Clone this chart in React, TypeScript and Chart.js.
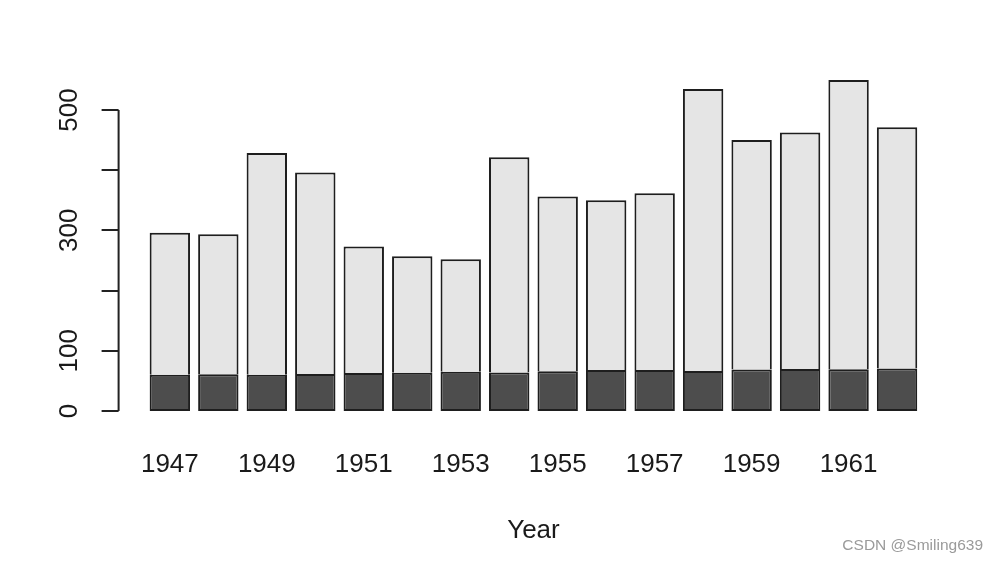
import React, { useEffect, useRef } from "react";
import { Chart, registerables } from "chart.js";

Chart.register(...registerables);

const years = ["1947","1948","1949","1950","1951","1952","1953","1954","1955","1956","1957","1958","1959","1960","1961","1962"];
const employed = [60.323, 61.122, 60.171, 61.187, 63.221, 63.639, 64.989, 63.761, 66.019, 67.857, 68.169, 66.513, 68.655, 69.564, 69.331, 70.551];
const unemployed = [235.6, 232.5, 368.2, 335.1, 209.9, 193.2, 187.0, 357.8, 290.4, 282.2, 293.6, 468.1, 381.3, 393.1, 480.6, 400.7];
const yTicks = [0, 100, 200, 300, 400, 500];
const yTickLabels = ["0", "100", "", "300", "", "500"];
const xAxisTitle = "Year";
const watermark = "CSDN @Smiling639";

const FONT = "26px 'Liberation Sans', Arial, sans-serif";

const axesPlugin = {
  id: "rAxes",
  afterDraw(chart: any) {
    const ctx = chart.ctx;
    const ys = chart.scales.y;
    const xs = chart.scales.x;
    const area = chart.chartArea;
    ctx.save();
    // y axis
    const axisX = area.left - 27;
    ctx.strokeStyle = "#222";
    ctx.lineWidth = 2;
    ctx.beginPath();
    ctx.moveTo(axisX, ys.getPixelForValue(yTicks[0]));
    ctx.lineTo(axisX, ys.getPixelForValue(yTicks[yTicks.length - 1]));
    yTicks.forEach((v) => {
      const py = Math.round(ys.getPixelForValue(v));
      ctx.moveTo(axisX, py);
      ctx.lineTo(axisX - 17, py);
    });
    ctx.stroke();
    ctx.fillStyle = "#1a1a1a";
    ctx.font = FONT;
    ctx.textAlign = "center";
    ctx.textBaseline = "middle";
    yTicks.forEach((v, i) => {
      const lab = yTickLabels[i];
      if (!lab) return;
      const py = ys.getPixelForValue(v);
      ctx.save();
      ctx.translate(axisX - 49, py);
      ctx.rotate(-Math.PI / 2);
      ctx.fillText(lab, 0, 0);
      ctx.restore();
    });
    // x labels (every other, as R drops overlapping ones)
    years.forEach((y, i) => {
      if (i % 2 !== 0) return;
      ctx.fillText(y, xs.getPixelForValue(i), 465);
    });
    // axis title
    ctx.fillText(xAxisTitle, (area.left + area.right) / 2, 531);
    // watermark
    ctx.fillStyle = "#9a9a9a";
    ctx.font = "15.5px 'Liberation Sans', Arial, sans-serif";
    ctx.textAlign = "right";
    ctx.fillText(watermark, 983, 546);
    ctx.restore();
  },
};

export default function App() {
  const ref = useRef<HTMLCanvasElement | null>(null);
  useEffect(() => {
    if (!ref.current) return;
    const chart = new Chart(ref.current, {
      type: "bar",
      data: {
        labels: years,
        datasets: [
          {
            label: "Employed",
            data: employed,
            backgroundColor: "#4d4d4d",
            borderColor: "#1e1e1e",
            borderWidth: 2,
            borderSkipped: false,
            barPercentage: 1 / 1.2,
            categoryPercentage: 1,
          },
          {
            label: "Unemployed",
            data: unemployed,
            backgroundColor: "#e5e5e5",
            borderColor: "#1e1e1e",
            borderWidth: 2,
            borderSkipped: "bottom",
            barPercentage: 1 / 1.2,
            categoryPercentage: 1,
          },
        ],
      },
      options: {
        responsive: false,
        animation: false,
        layout: { padding: { left: 145.6, right: 76.7, top: 66, bottom: 139.8 } },
        plugins: { legend: { display: false }, tooltip: { enabled: false } },
        scales: {
          x: { display: false, stacked: true },
          y: { display: false, stacked: true, min: -22, max: 573 },
        },
      },
      plugins: [axesPlugin],
    });
    return () => chart.destroy();
  }, []);
  return (
    <div style={{ position: "absolute", left: 0, top: 0, width: 998, height: 564, background: "#fff" }}>
      <canvas ref={ref} width={998} height={564} />
    </div>
  );
}
